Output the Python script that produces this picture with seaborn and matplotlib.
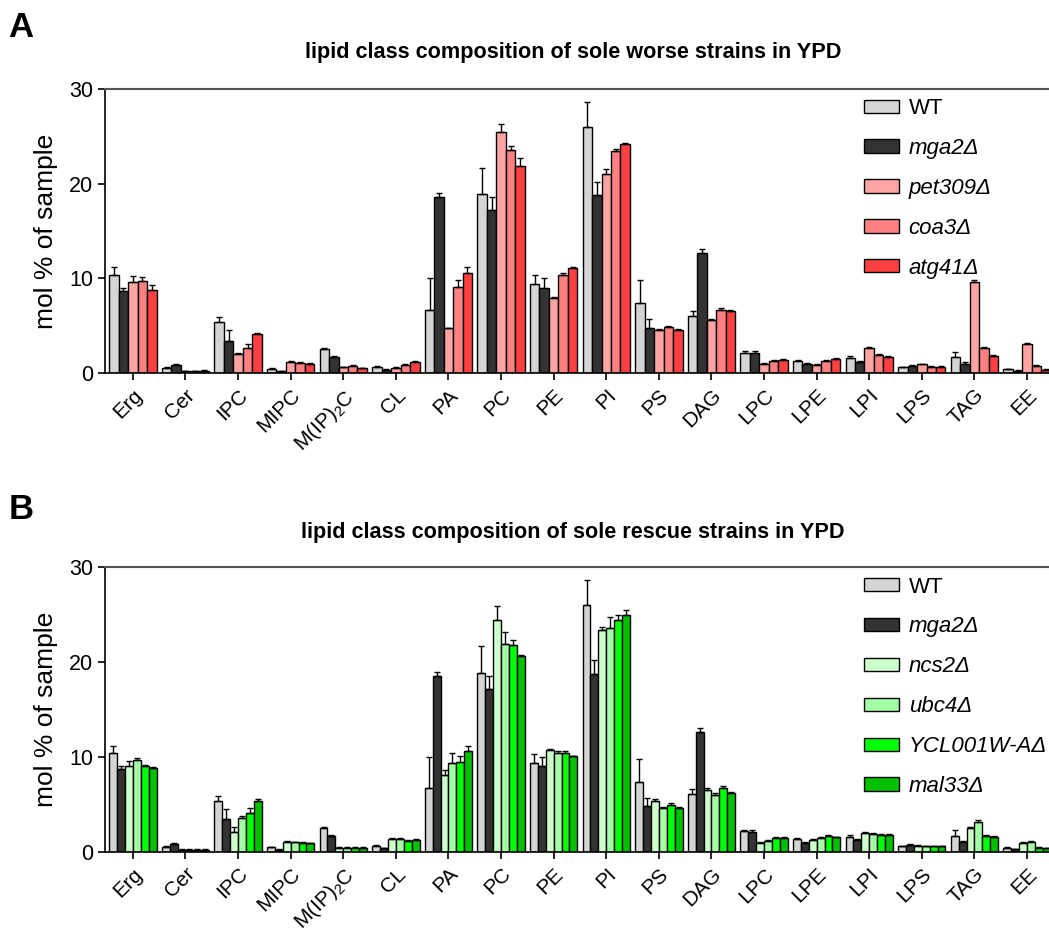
import numpy as np
import pandas as pd
import matplotlib
matplotlib.use("Agg")
import matplotlib.pyplot as plt
from matplotlib.patches import Patch
import seaborn as sns

categories = ["Erg", "Cer", "IPC", "MIPC", "M(IP)2C", "CL", "PA", "PC", "PE", "PI",
              "PS", "DAG", "LPC", "LPE", "LPI", "LPS", "TAG", "EE"]
tick_labels = ["Erg", "Cer", "IPC", "MIPC", "M(IP)$_\\mathregular{2}$C", "CL", "PA", "PC", "PE", "PI",
               "PS", "DAG", "LPC", "LPE", "LPI", "LPS", "TAG", "EE"]

wt = [10.4, 0.5, 5.35, 0.45, 2.5, 0.65, 6.7, 18.9, 9.35, 26.0, 7.4, 6.05, 2.15, 1.3, 1.6, 0.6, 1.7, 0.4]
wt_sd = [0.8, 0.1, 0.55, 0.05, 0.15, 0.1, 3.3, 2.8, 1.0, 2.65, 2.4, 0.55, 0.15, 0.1, 0.15, 0.05, 0.55, 0.05]
mga2 = [8.7, 0.85, 3.4, 0.2, 1.65, 0.35, 18.55, 17.2, 9.0, 18.75, 4.8, 12.65, 2.1, 0.95, 1.2, 0.75, 1.0, 0.25]
mga2_sd = [0.3, 0.1, 1.1, 0.05, 0.1, 0.05, 0.45, 1.35, 1.0, 1.45, 0.9, 0.4, 0.2, 0.1, 0.1, 0.1, 0.15, 0.05]

pet309 = [9.6, 0.2, 2.0, 1.2, 0.6, 0.55, 4.7, 25.5, 7.9, 21.0, 4.55, 5.6, 1.0, 0.85, 2.6, 0.9, 9.65, 3.1]
pet309_sd = [0.6, 0.05, 0.1, 0.1, 0.05, 0.05, 0.1, 0.8, 0.1, 0.5, 0.1, 0.1, 0.1, 0.1, 0.1, 0.1, 0.15, 0.1]
coa3 = [9.7, 0.2, 2.6, 1.1, 0.75, 0.85, 9.1, 23.6, 10.4, 23.4, 4.9, 6.65, 1.25, 1.25, 1.9, 0.65, 2.6, 0.7]
coa3_sd = [0.4, 0.05, 0.45, 0.1, 0.05, 0.1, 0.7, 0.4, 0.2, 0.3, 0.1, 0.2, 0.1, 0.1, 0.1, 0.05, 0.1, 0.1]
atg41 = [8.8, 0.25, 4.1, 1.0, 0.5, 1.2, 10.6, 21.85, 11.05, 24.15, 4.55, 6.5, 1.35, 1.45, 1.7, 0.65, 1.75, 0.35]
atg41_sd = [0.5, 0.05, 0.1, 0.1, 0.05, 0.1, 0.6, 0.85, 0.15, 0.15, 0.1, 0.15, 0.1, 0.1, 0.1, 0.05, 0.1, 0.05]

ncs2 = [9.05, 0.2, 2.1, 1.05, 0.4, 1.3, 8.1, 24.5, 10.75, 23.4, 5.4, 6.5, 0.95, 1.25, 2.0, 0.65, 2.45, 0.9]
ncs2_sd = [0.55, 0.05, 0.55, 0.05, 0.05, 0.1, 0.5, 1.4, 0.1, 0.3, 0.15, 0.2, 0.1, 0.1, 0.1, 0.05, 0.2, 0.1]
ubc4 = [9.7, 0.2, 3.6, 1.0, 0.4, 1.35, 9.4, 21.9, 10.45, 23.6, 4.6, 6.0, 1.1, 1.4, 1.85, 0.6, 3.15, 1.05]
ubc4_sd = [0.2, 0.05, 0.15, 0.05, 0.05, 0.1, 1.05, 1.3, 0.15, 1.15, 0.1, 0.15, 0.1, 0.1, 0.1, 0.05, 0.2, 0.1]
ycl001w = [9.05, 0.2, 4.05, 0.95, 0.4, 1.1, 9.5, 21.8, 10.4, 24.45, 4.95, 6.75, 1.4, 1.65, 1.75, 0.6, 1.65, 0.4]
ycl001w_sd = [0.15, 0.05, 0.55, 0.05, 0.05, 0.1, 0.6, 0.5, 0.2, 0.55, 0.15, 0.2, 0.1, 0.1, 0.1, 0.05, 0.1, 0.05]
mal33 = [8.8, 0.2, 5.35, 0.9, 0.4, 1.25, 10.6, 20.65, 10.05, 25.0, 4.6, 6.15, 1.4, 1.5, 1.75, 0.6, 1.6, 0.35]
mal33_sd = [0.15, 0.05, 0.2, 0.05, 0.05, 0.1, 0.55, 0.15, 0.1, 0.5, 0.1, 0.15, 0.1, 0.1, 0.1, 0.05, 0.1, 0.05]

strains_a = ["WT", "mga2Δ", "pet309Δ", "coa3Δ", "atg41Δ"]
colors_a = ["#d4d4d4", "#333333", "#ffa3a3", "#ff8080", "#ff4040"]
means_a = [wt, mga2, pet309, coa3, atg41]
sds_a = [wt_sd, mga2_sd, pet309_sd, coa3_sd, atg41_sd]

strains_b = ["WT", "mga2Δ", "ncs2Δ", "ubc4Δ", "YCL001W-AΔ", "mal33Δ"]
colors_b = ["#d4d4d4", "#333333", "#ccffcc", "#a3ffa3", "#00ff00", "#00c000"]
means_b = [wt, mga2, ncs2, ubc4, ycl001w, mal33]
sds_b = [wt_sd, mga2_sd, ncs2_sd, ubc4_sd, ycl001w_sd, mal33_sd]

title_a = "lipid class composition of sole worse strains in YPD"
title_b = "lipid class composition of sole rescue strains in YPD"

sns.set_style("ticks")
plt.rcParams["font.family"] = ["Liberation Sans", "DejaVu Sans"]
plt.rcParams["mathtext.default"] = "regular"
for key in ["text.color", "axes.labelcolor", "xtick.color", "ytick.color", "axes.edgecolor"]:
    plt.rcParams[key] = "black"

fig = plt.figure(figsize=(10.49, 9.35), dpi=100)
ax_a = fig.add_axes([0.1001, 0.6011, 0.9, 0.3037])
ax_b = fig.add_axes([0.1001, 0.0891, 0.9, 0.3040])


def draw_panel(ax, strains, colors, means, sds, title, letter, title_y, letter_y):
    rows = []
    for s, vals in zip(strains, means):
        for c, v in zip(categories, vals):
            rows.append({"lipid": c, "strain": s, "value": v})
    df = pd.DataFrame(rows)
    sns.barplot(data=df, x="lipid", y="value", hue="strain", order=categories,
                hue_order=strains, palette=colors, width=0.9, errorbar=None,
                edgecolor="black", linewidth=1.0, saturation=1, ax=ax, legend=False)
    for cont, sd, vals in zip(ax.containers, sds, means):
        xs = [b.get_x() + b.get_width() / 2 for b in cont]
        ax.errorbar(xs, vals, yerr=[np.zeros(len(sd)), sd], fmt="none",
                    ecolor="black", elinewidth=1.0, capsize=2, capthick=1.0, zorder=5)
    ax.set_ylim(0, 30)
    ax.set_yticks([0, 10, 20, 30])
    ax.set_xlim(-0.53, 17.42)
    ax.set_xticks(range(len(categories)))
    ax.set_xticklabels(tick_labels, rotation=45, ha="right", rotation_mode="anchor",
                       fontsize=15)
    ax.tick_params(axis="y", labelsize=15.5, length=5, width=1.2)
    ax.tick_params(axis="x", length=5, width=1.2, pad=4)
    ax.set_xlabel("")
    ax.set_ylabel("mol % of sample", fontsize=19, labelpad=8)
    for sp in ["left", "bottom"]:
        ax.spines[sp].set_color("black")
        ax.spines[sp].set_linewidth(1.2)
    ax.spines["top"].set_visible(True)
    ax.spines["top"].set_color("#555555")
    ax.spines["top"].set_linewidth(1.5)
    ax.spines["right"].set_visible(False)

    handles = [Patch(facecolor=c, edgecolor="black", linewidth=1.0) for c in colors]
    leg = ax.legend(handles, strains, loc="upper left", bbox_to_anchor=(0.79, 1.015),
                    frameon=False, fontsize=16, handlelength=1.55, handleheight=0.55,
                    labelspacing=0.85, handletextpad=0.45, borderaxespad=0.2)
    for t in leg.get_texts():
        if t.get_text() != "WT":
            t.set_style("italic")

    fig.text(0.546, title_y, title, ha="center", va="center", fontsize=15.6,
             fontweight="bold")
    fig.text(0.008, letter_y, letter, ha="left", va="center", fontsize=25,
             fontweight="bold")


draw_panel(ax_a, strains_a, colors_a, means_a, sds_a, title_a, "A", 0.944, 0.971)
draw_panel(ax_b, strains_b, colors_b, means_b, sds_b, title_b, "B", 0.431, 0.455)

fig.savefig("out.png", dpi=100)
